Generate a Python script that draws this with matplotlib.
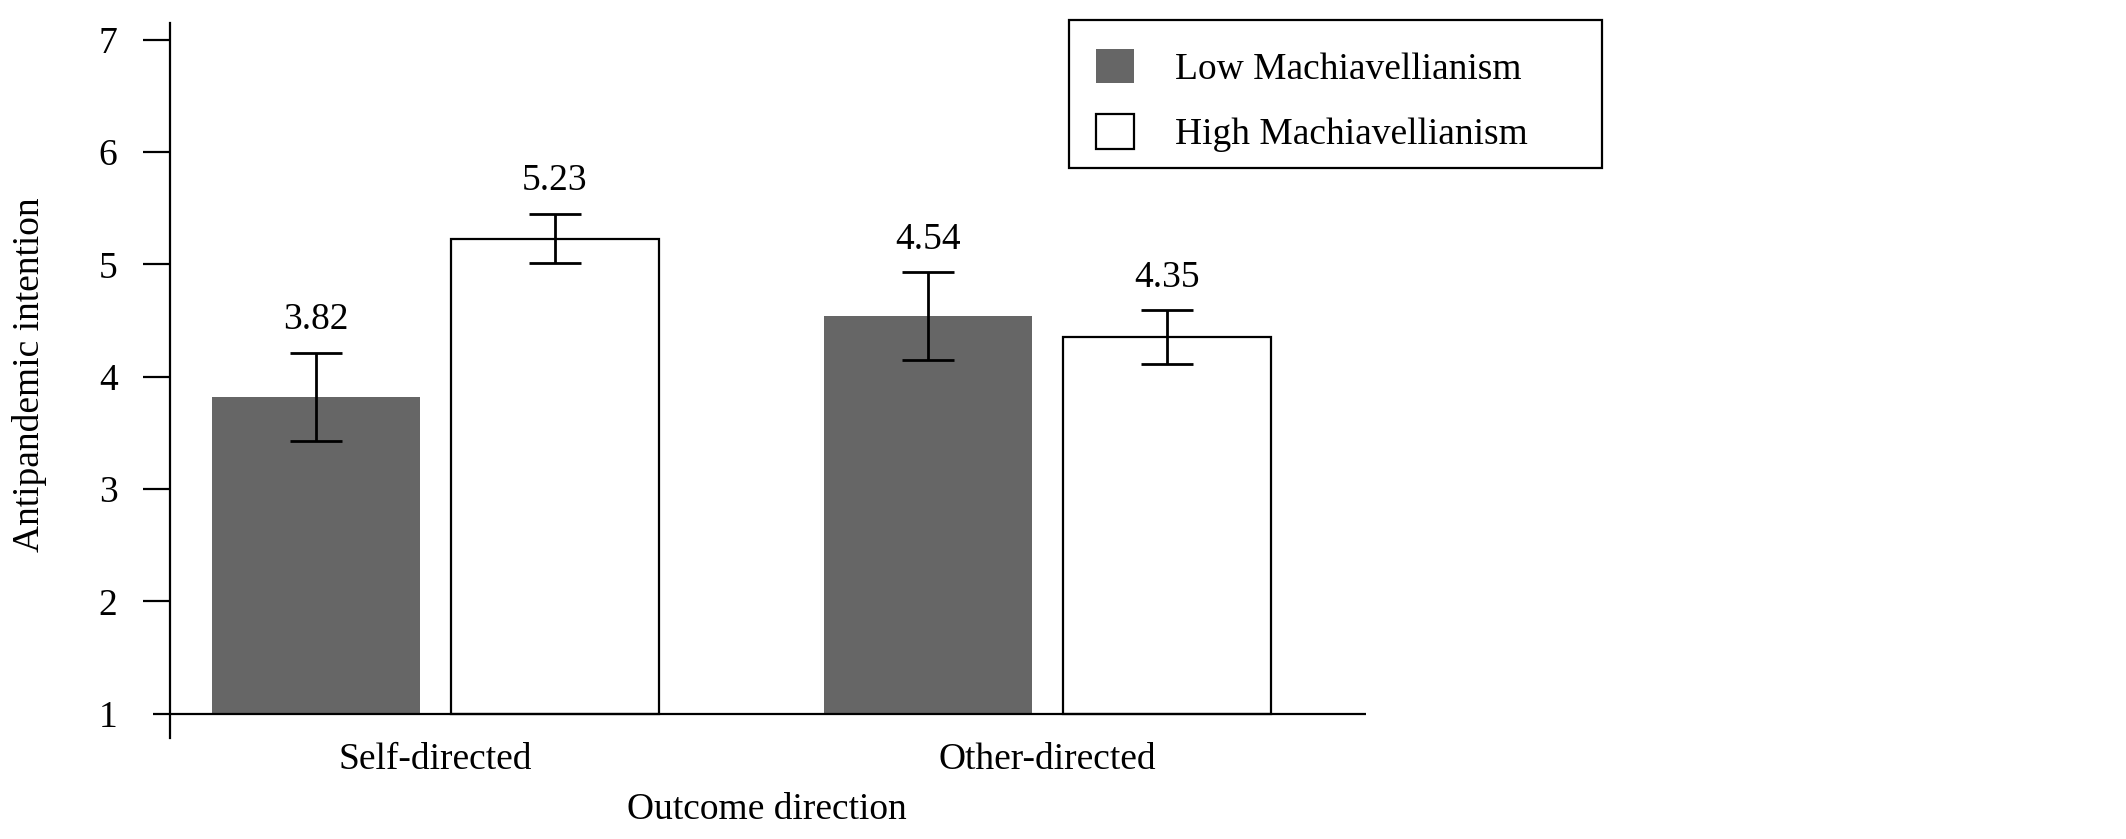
import numpy as np
import matplotlib
matplotlib.use("Agg")
import matplotlib.pyplot as plt
from matplotlib.patches import Rectangle

# Values
groups = ["Self-directed", "Other-directed"]
series = ["Low Machiavellianism", "High Machiavellianism"]
low_means = [3.82, 4.54]
high_means = [5.23, 4.35]
low_err = [0.39, 0.39]
high_err = [0.22, 0.24]
y_ticks = [1, 2, 3, 4, 5, 6, 7]

plt.rcParams["font.family"] = ["Liberation Serif", "DejaVu Serif"]
plt.rcParams["font.size"] = 27

W, H = 2126, 839
fig = plt.figure(figsize=(W / 100, H / 100), dpi=100)
ax = fig.add_axes([169.5 / W, 1 - 738.3 / H, (1365.5 - 169.5) / W, (738.3 - 22.9) / H])

x = np.arange(len(groups))
width = 0.34
offset = 0.195
base = 1
lw = 1.6

ax.bar(x - offset, np.array(low_means) - base, width, bottom=base,
       color="#666666", edgecolor="none", label=series[0], zorder=2)
ax.bar(x + offset, np.array(high_means) - base, width, bottom=base,
       color="white", edgecolor="black", linewidth=lw, label=series[1], zorder=2)

ax.errorbar(x - offset, low_means, yerr=low_err, fmt="none", ecolor="black",
            elinewidth=2.0, capsize=19, capthick=2.0, zorder=3)
ax.errorbar(x + offset, high_means, yerr=high_err, fmt="none", ecolor="black",
            elinewidth=2.0, capsize=19, capthick=2.0, zorder=3)

# value labels above the error bars
for xs, means, errs in [(x - offset, low_means, low_err), (x + offset, high_means, high_err)]:
    for xi, m, e in zip(xs, means, errs):
        ax.annotate(f"{m:.2f}", (xi, m + e), xytext=(0, 17), textcoords="offset points",
                    ha="center", va="baseline")

ax.set_xlim(-0.434, 1.519)
ax.set_ylim(0.78, 7.15)

# baseline at y = 1, running a little left of the y axis
ax.plot([-0.461, 1.519], [base, base], color="black", linewidth=lw,
        clip_on=False, zorder=4, solid_capstyle="butt")

for side in ["top", "right", "bottom"]:
    ax.spines[side].set_visible(False)
ax.spines["left"].set_linewidth(lw)

ax.set_yticks(y_ticks)
ax.tick_params(axis="y", length=19.4, width=lw, pad=18)
ax.yaxis.get_major_ticks()[0].tick1line.set_visible(False)
ax.set_xticks(x)
ax.set_xticklabels(groups)
ax.tick_params(axis="x", length=0, pad=3)

fig.text(30 / W, 1 - 374.5 / H, "Antipandemic intention", rotation=90,
         ha="center", va="center")
fig.text(767 / W, 1 - 809.5 / H, "Outcome direction", ha="center", va="center")

leg = ax.legend(loc="upper left", bbox_to_anchor=(1077 / W, 1 - 30 / H),
                bbox_transform=fig.transFigure, frameon=False, borderpad=0,
                handlelength=1.03, handleheight=1.03, handletextpad=1.09,
                labelspacing=0.74)
fig.patches.append(Rectangle((1069 / W, 1 - 168 / H), 533 / W, 148 / H,
                             transform=fig.transFigure, fill=False,
                             edgecolor="black", linewidth=lw))

fig.savefig("out.png", dpi=100)
